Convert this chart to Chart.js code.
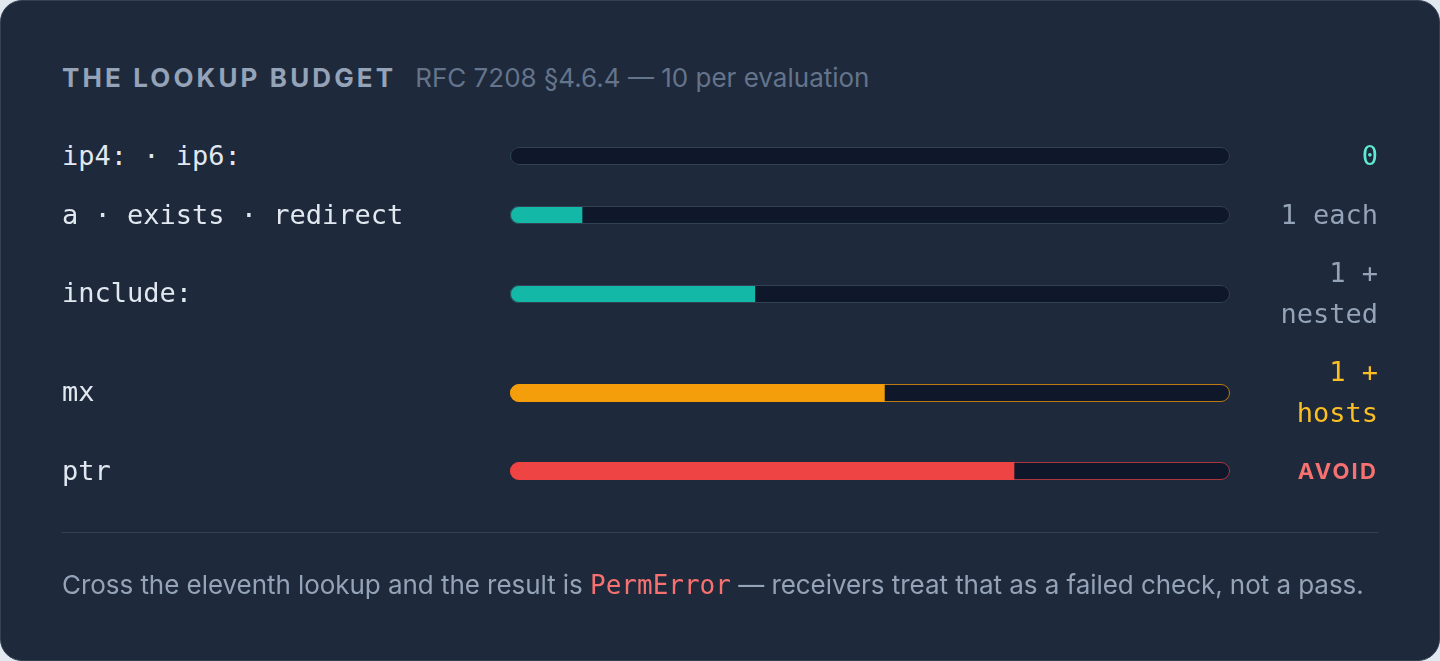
<!DOCTYPE html>
<html>
<head>
<meta charset="utf-8">
<script src="https://cdn.jsdelivr.net/npm/chart.js@4/dist/chart.umd.min.js"></script>
<style>
  html, body { margin: 0; padding: 0; width: 1440px; height: 661px; background: #e2e8f0; overflow: hidden; }
  .card {
    position: absolute; left: 0; top: 0; width: 1440px; height: 661px; box-sizing: border-box;
    background: #1e293b; border: 1px solid #334155; border-radius: 22px;
    padding: 61px 61px 0 61px;
    font-family: Inter, "Noto Sans", sans-serif;
  }
  .head { height: 30px; line-height: 30px; white-space: nowrap; margin-top: 1px; }
  .title { font-weight: 700; font-size: 26px; letter-spacing: 0.12em; color: #94a3b8; text-transform: uppercase; }
  .sub { font-size: 26px; color: #64748b; margin-left: 19px; }
  .rows {
    margin-top: 43px; display: grid;
    grid-template-columns: 424px 720px 124px; column-gap: 24px; row-gap: 18px;
    align-items: center;
  }
  .lab, .val { font-family: "DejaVu Sans Mono", monospace; font-size: 27px; line-height: 40.5px; }
  .lab { color: #e2e8f0; white-space: nowrap; }
  .val { text-align: right; }
  .val.avoid { font-family: Inter, sans-serif; font-weight: 700; font-size: 22px; letter-spacing: 0.1em; }
  .barcell { height: 18px; }
  .barcell canvas { display: block; }
  .rule { margin-top: 40px; height: 1px; background: #334155; }
  .foot { margin-top: 34px; font-size: 26px; line-height: 36px; color: #94a3b8; white-space: nowrap; letter-spacing: -0.002em; }
  .foot code { font-family: "DejaVu Sans Mono", monospace; font-size: 26px; color: #f87171; letter-spacing: 0; }
</style>
</head>
<body>
<div class="card">
  <div class="head"><span class="title">The lookup budget</span><span class="sub">RFC 7208 §4.6.4 — 10 per evaluation</span></div>
  <div class="rows" id="rows"></div>
  <div class="rule"></div>
  <div class="foot">Cross the eleventh lookup and the result is <code>PermError</code> — receivers treat that as a failed check, not a pass.</div>
</div>
<script>
// ---- data ----
const categories = ["ip4: · ip6:", "a · exists · redirect", "include:", "mx", "ptr"];
const lookupCost = [0, 1, 3.4, 5.2, 7];          // bar length, out of the 10-lookup budget
const costLabels = ["0", "1 each", "1 + nested", "1 + hosts", "AVOID"];
const severity = ["free", "counted", "counted", "warn", "danger"];
const budgetMax = 10;

// ---- styles ----
const palette = {
  free:    { fill: "#14b8a6", text: "#5eead4", track: "#334155" },
  counted: { fill: "#14b8a6", text: "#94a3b8", track: "#334155" },
  warn:    { fill: "#f59e0b", text: "#fbbf24", track: "rgba(245,158,11,0.75)" },
  danger:  { fill: "#ef4444", text: "#f87171", track: "rgba(239,68,68,0.7)" }
};

const trackPlugin = {
  id: "track",
  beforeDatasetsDraw(chart, args, opts) {
    const { ctx, chartArea: a } = chart;
    const r = (a.bottom - a.top) / 2;
    ctx.save();
    ctx.beginPath();
    ctx.roundRect(a.left, a.top, a.right - a.left, a.bottom - a.top, r);
    ctx.fillStyle = "#0f172a";
    ctx.fill();
    ctx.clip();
  },
  afterDatasetsDraw(chart, args, opts) {
    const { ctx, chartArea: a } = chart;
    ctx.restore();
    const r = (a.bottom - a.top) / 2;
    ctx.save();
    ctx.beginPath();
    ctx.roundRect(a.left + 0.5, a.top + 0.5, a.right - a.left - 1, a.bottom - a.top - 1, r - 0.5);
    ctx.strokeStyle = opts.border;
    ctx.lineWidth = 1;
    ctx.stroke();
    ctx.restore();
  }
};

const rowsEl = document.getElementById("rows");
categories.forEach((cat, i) => {
  const p = palette[severity[i]];
  const lab = document.createElement("div");
  lab.className = "lab";
  lab.textContent = cat;
  const cell = document.createElement("div");
  cell.className = "barcell";
  const cv = document.createElement("canvas");
  cv.width = 720; cv.height = 18;
  cv.style.width = "720px"; cv.style.height = "18px";
  cell.appendChild(cv);
  const val = document.createElement("div");
  val.className = "val" + (severity[i] === "danger" ? " avoid" : "");
  val.style.color = p.text;
  val.textContent = costLabels[i];
  rowsEl.appendChild(lab); rowsEl.appendChild(cell); rowsEl.appendChild(val);

  new Chart(cv, {
    type: "bar",
    data: {
      labels: [cat],
      datasets: [{
        data: [lookupCost[i]],
        backgroundColor: p.fill,
        borderWidth: 0,
        borderSkipped: false,
        barPercentage: 1,
        categoryPercentage: 1
      }]
    },
    options: {
      indexAxis: "y",
      responsive: false,
      animation: false,
      events: [],
      layout: { padding: 0 },
      plugins: { legend: { display: false }, tooltip: { enabled: false }, track: { border: p.track } },
      scales: {
        x: { display: false, min: 0, max: budgetMax },
        y: { display: false }
      }
    },
    plugins: [trackPlugin]
  });
});
</script>
</body>
</html>
